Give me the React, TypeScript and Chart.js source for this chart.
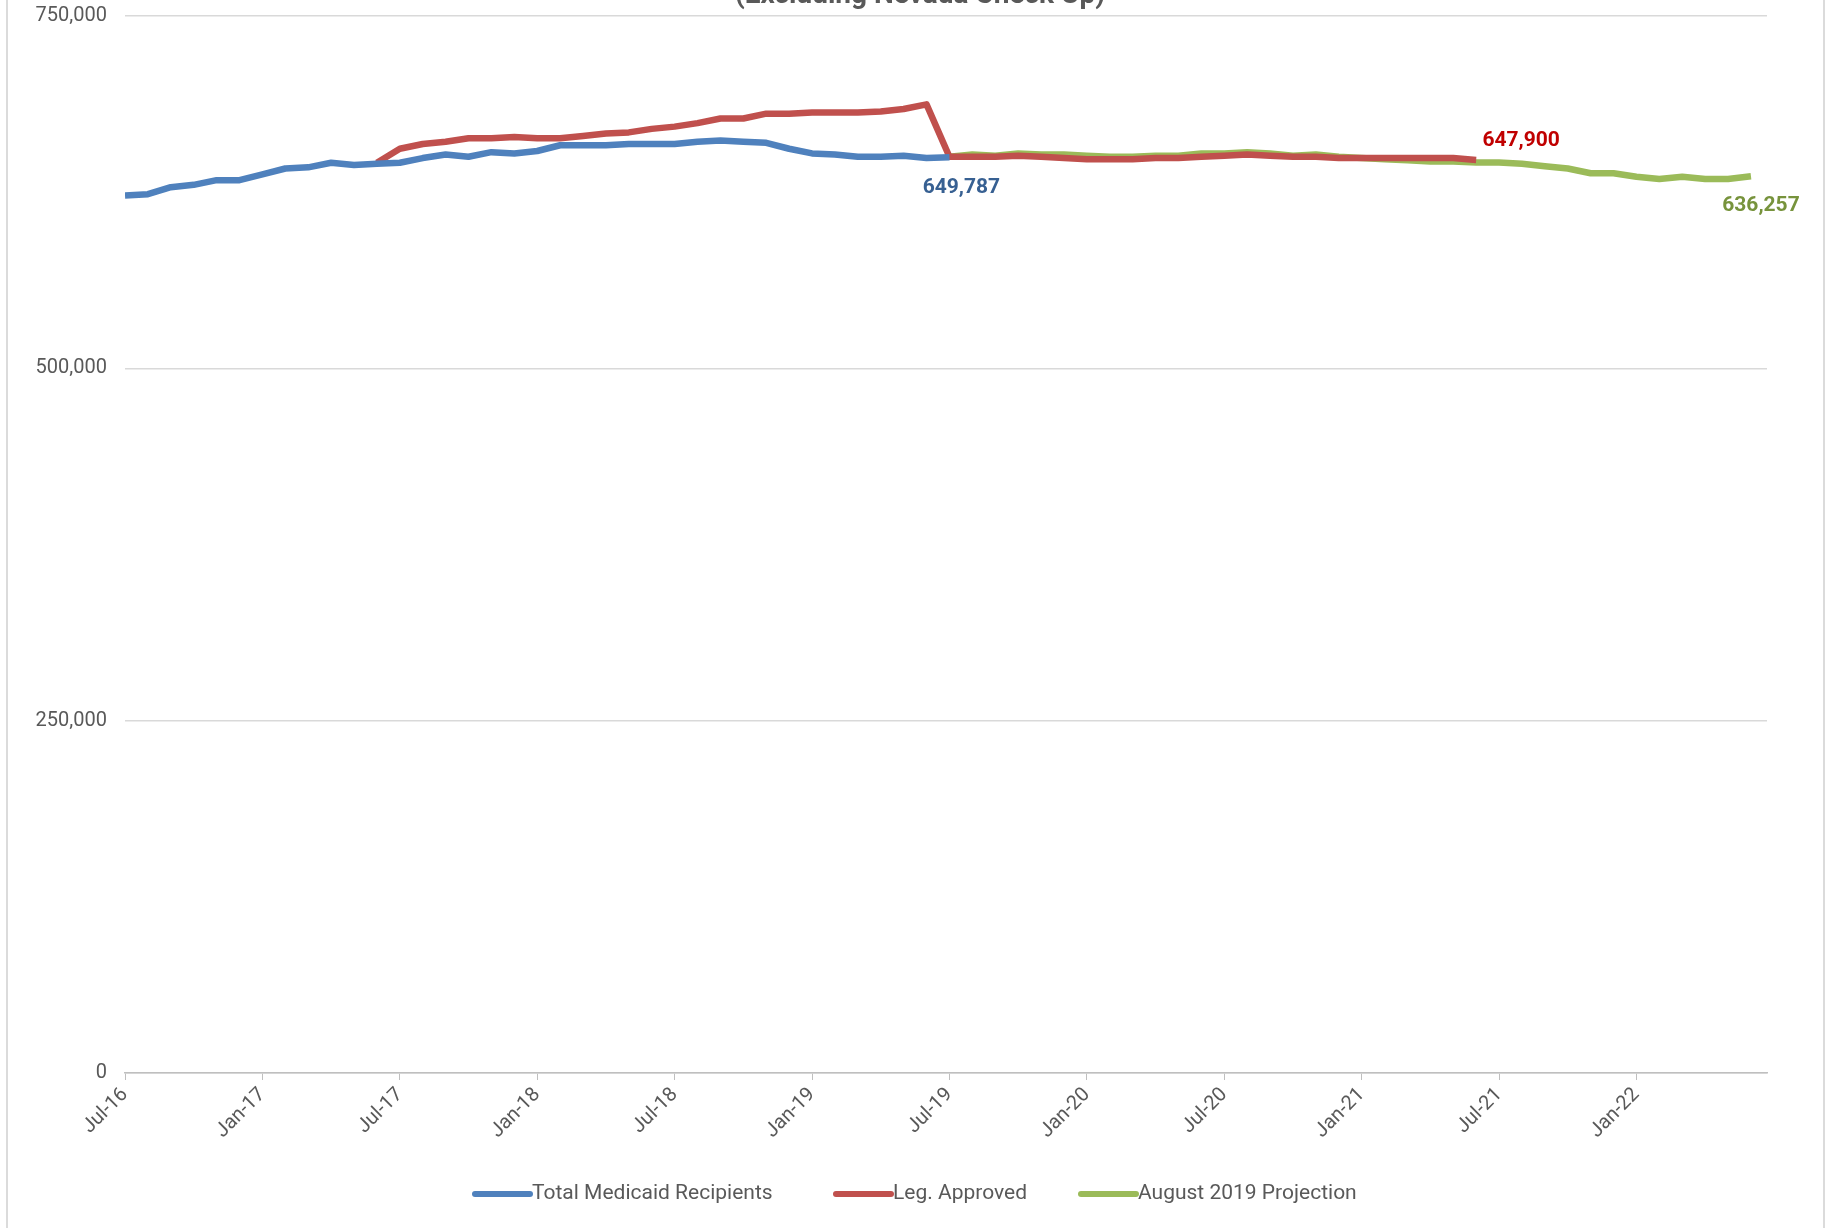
import React, { useEffect, useRef } from "react";
import { Chart, registerables } from "chart.js";
Chart.register(...registerables);

const months = ["Jan", "Feb", "Mar", "Apr", "May", "Jun", "Jul", "Aug", "Sep", "Oct", "Nov", "Dec"];
// index 0 = Jul-16 ... 71 = Jun-22
const totalRecipients = [
  622.7, 623.6, 628.5, 630.2, 633.5, 633.5, 637.6, 641.8, 642.6, 645.9, 644.3, 645.1,
  645.9, 649.2, 651.7, 650.1, 653.4, 652.5, 654.2, 658.3, 658.3, 658.3, 659.2, 659.2,
  659.2, 660.8, 661.6, 660.8, 660.0, 655.8, 652.5, 651.7, 650.1, 650.1, 650.9, 649.2, 649.787,
];
const legApproved: (number | null)[] = [
  null, null, null, null, null, null, null, null, null, null, null, 645.9,
  655.8, 659.2, 660.8, 663.3, 663.3, 664.1, 663.3, 663.3, 664.9, 666.6, 667.4, 669.9,
  671.5, 674.0, 677.3, 677.3, 680.7, 680.7, 681.5, 681.5, 681.5, 682.3, 684.0, 687.3,
  650.1, 650.1, 650.1, 650.9, 650.1, 649.2, 648.4, 648.4, 648.4, 649.2, 649.2, 650.1,
  650.9, 651.7, 650.9, 650.1, 650.1, 649.2, 649.2, 649.2, 649.2, 649.2, 649.2, 647.9,
];
const projection: (number | null)[] = [
  ...Array(36).fill(null),
  650.1, 651.7, 650.9, 652.5, 651.7, 651.7, 650.9, 650.1, 650.1, 650.9, 650.9, 652.5,
  652.5, 653.4, 652.5, 650.9, 651.7, 650.1, 649.2, 648.4, 647.6, 646.8, 646.8, 646.0,
  646.0, 645.1, 643.4, 641.8, 638.4, 638.4, 636.0, 634.3, 636.0, 634.3, 634.3, 636.257,
];
const yTicks = [0, 250000, 500000, 750000];

const FONT = "Roboto, 'Liberation Sans', sans-serif";
const BLUE = "#4F81BD", RED = "#C0504D", GREEN = "#9BBB59";

function toPts(arr: (number | null)[]) {
  return arr.map((v, i) => ({ x: i, y: v == null ? null : v * 1000 }));
}

export default function App() {
  const ref = useRef<HTMLCanvasElement>(null);
  useEffect(() => {
    const deco = {
      id: "deco",
      afterDraw(c: any) {
        const ctx = c.ctx;
        const xs = c.scales.x, ys = c.scales.y;
        ctx.save();
        ctx.strokeStyle = "#d0d0d0"; ctx.lineWidth = 1.5;
        ctx.beginPath(); ctx.moveTo(7, 0); ctx.lineTo(7, 1228); ctx.moveTo(1824, 0); ctx.lineTo(1824, 1228); ctx.stroke();
        ctx.fillStyle = "#595959"; ctx.font = `bold 28px ${FONT}`; ctx.textAlign = "center"; ctx.textBaseline = "alphabetic";
        ctx.fillText("(Excluding Nevada Check Up)", 920, 3);
        ctx.font = `bold 21px ${FONT}`;
        ctx.fillStyle = "#376092";
        ctx.fillText("649,787", xs.getPixelForValue(36) + 12, ys.getPixelForValue(649787) + 36);
        ctx.fillStyle = "#C00000";
        ctx.fillText("647,900", xs.getPixelForValue(59) + 45, ys.getPixelForValue(647900) - 14);
        ctx.fillStyle = "#77933C";
        ctx.fillText("636,257", xs.getPixelForValue(71) + 10, ys.getPixelForValue(636257) + 35);
        const items = [[BLUE, "Total Medicaid Recipients", 475], [RED, "Leg. Approved", 836], [GREEN, "August 2019 Projection", 1081]] as const;
        ctx.font = `21px ${FONT}`; ctx.textAlign = "left"; ctx.textBaseline = "middle";
        for (const [col, txt, x] of items) {
          ctx.strokeStyle = col; ctx.lineWidth = 6; ctx.lineCap = "round";
          ctx.beginPath(); ctx.moveTo(x, 1194); ctx.lineTo(x + 55, 1194); ctx.stroke();
          ctx.fillStyle = "#595959"; ctx.fillText(txt, x + 57, 1194);
        }
        ctx.restore();
      },
    };
    const ds = (label: string, data: any, color: string) => ({
      label, data, borderColor: color, backgroundColor: color, borderWidth: 6.5,
      pointRadius: 0, tension: 0, spanGaps: false, borderJoinStyle: "round" as const,
    });
    const chart = new Chart(ref.current!, {
      type: "line",
      data: {
        datasets: [
          ds("Total Medicaid Recipients", toPts(totalRecipients), BLUE),
          ds("Leg. Approved", toPts(legApproved), RED),
          ds("August 2019 Projection", toPts(projection), GREEN),
        ],
      },
      options: {
        animation: false, responsive: false,
        layout: { padding: { top: 16, right: 59, left: 0, bottom: 0 } },
        plugins: { legend: { display: false }, tooltip: { enabled: false } },
        scales: {
          x: {
            type: "linear", min: 0, max: 71.7,
            afterFit: (s: any) => { s.height = 155; s.paddingLeft = 0; s.paddingRight = 0; },
            afterBuildTicks: (s: any) => { s.ticks = Array.from({ length: 12 }, (_, i) => ({ value: i * 6 })); },
            ticks: {
              autoSkip: false, maxRotation: 45, minRotation: 45, color: "#595959",
              font: { size: 20, family: FONT },
              callback: (v: any) => { const m = (6 + Number(v)) % 12; const yr = 16 + Math.floor((6 + Number(v)) / 12); return `${months[m]}-${yr}`; },
            },
            grid: { display: true, drawOnChartArea: false, drawTicks: true, tickLength: 7, color: "#bfbfbf" },
            border: { color: "#bfbfbf", width: 1.5 },
          },
          y: {
            min: 0, max: 750000,
            afterFit: (s: any) => { s.width = 125; s.paddingTop = 0; s.paddingBottom = 0; },
            afterBuildTicks: (s: any) => { s.ticks = yTicks.map((v) => ({ value: v })); },
            ticks: { color: "#595959", font: { size: 20, family: FONT }, padding: 18, callback: (v: any) => Number(v).toLocaleString("en-US") },
            grid: { color: "#d9d9d9", lineWidth: 1.5, drawTicks: false },
            border: { display: false },
          },
        },
      },
      plugins: [deco],
    });
    return () => chart.destroy();
  }, []);
  return <canvas ref={ref} width={1826} height={1228} style={{ position: "fixed", left: 0, top: 0, width: 1826, height: 1228 }} />;
}
